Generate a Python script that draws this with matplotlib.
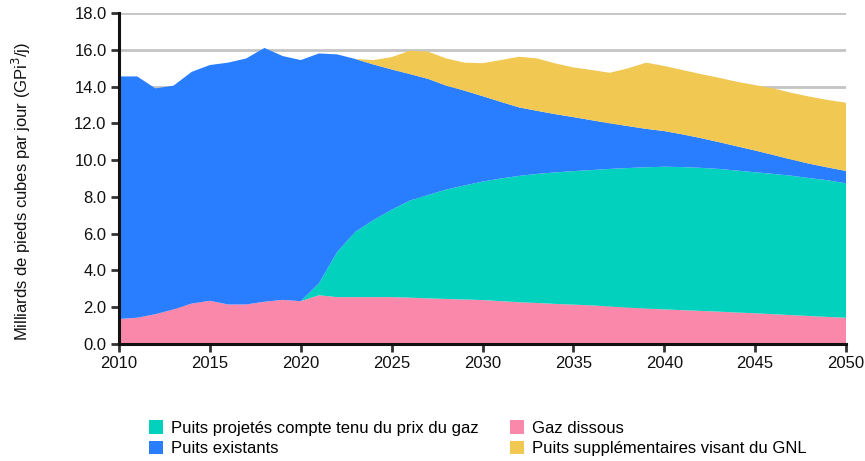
import matplotlib.pyplot as plt
import numpy as np

plt.rcParams['font.family'] = ['Liberation Sans', 'DejaVu Sans']

# annees et series (GPi3/j)
years = np.arange(2010, 2051)

gaz_dissous = [1.36, 1.43, 1.62, 1.88, 2.20, 2.35, 2.15, 2.15, 2.30, 2.40,
               2.33, 2.65, 2.55, 2.55, 2.55, 2.55, 2.52, 2.48, 2.45, 2.42,
               2.39, 2.33, 2.27, 2.23, 2.18, 2.14, 2.10, 2.04, 1.98, 1.93,
               1.88, 1.84, 1.80, 1.76, 1.71, 1.67, 1.62, 1.57, 1.52, 1.47,
               1.43]

puits_projetes = [0, 0, 0, 0, 0, 0, 0, 0, 0, 0,
                  0, 0.65, 2.45, 3.55, 4.19, 4.75, 5.28, 5.62, 5.95, 6.20,
                  6.44, 6.67, 6.87, 7.02, 7.15, 7.26, 7.36, 7.48, 7.59, 7.68,
                  7.76, 7.78, 7.78, 7.76, 7.72, 7.67, 7.63, 7.58, 7.50, 7.43,
                  7.31]

puits_existants = [13.19, 13.12, 12.28, 12.17, 12.60, 12.82, 13.15, 13.38, 13.80, 13.26,
                   13.11, 12.50, 10.75, 9.40, 8.46, 7.63, 6.88, 6.32, 5.65, 5.16,
                   4.65, 4.17, 3.73, 3.43, 3.17, 2.94, 2.71, 2.48, 2.28, 2.09,
                   1.94, 1.78, 1.62, 1.46, 1.32, 1.18, 1.03, 0.88, 0.78, 0.70,
                   0.67]

puits_gnl = [0, 0, 0, 0, 0, 0, 0, 0, 0, 0,
             0, 0, 0, 0, 0.24, 0.67, 1.27, 1.48, 1.48, 1.52,
             1.79, 2.27, 2.75, 2.85, 2.76, 2.70, 2.73, 2.75, 3.14, 3.60,
             3.54, 3.50, 3.48, 3.50, 3.51, 3.56, 3.62, 3.63, 3.65, 3.67,
             3.71]

labels = ['Gaz dissous', 'Puits projetés compte tenu du prix du gaz',
          'Puits existants', 'Puits supplémentaires visant du GNL']
colors = ['#F988AB', '#02D1BE', '#287EFF', '#F0C852']

fig = plt.figure(figsize=(8.65, 4.61), dpi=100)
ax = fig.add_axes([0.1376, 0.2538, 0.8405, 0.718])

polys = ax.stackplot(years, gaz_dissous, puits_projetes, puits_existants, puits_gnl,
                     colors=colors, labels=labels, linewidth=0, zorder=2)

ax.set_xlim(2010, 2050)
ax.set_ylim(0, 18)
ax.set_xticks(range(2010, 2051, 5))
ax.set_yticks(np.arange(0, 18.1, 2))
ax.set_yticklabels(['%.1f' % v for v in np.arange(0, 18.1, 2)])

ax.yaxis.grid(True, color='#c4c4c4', linewidth=2, zorder=1)
ax.set_axisbelow(True)
for s in ['top', 'right']:
    ax.spines[s].set_visible(False)
for s in ['left', 'bottom']:
    ax.spines[s].set_linewidth(2.2)
    ax.spines[s].set_color('#111111')
    ax.spines[s].set_zorder(3)
ax.tick_params(axis='both', length=6, width=2, color='#333333',
               labelsize=12, labelcolor='#111111')
ax.tick_params(axis='y', pad=3)
ax.tick_params(axis='x', pad=3)

ax.set_ylabel('Milliards de pieds cubes par jour (GPi$^3$/j)', fontsize=12,
              color='#111111')
ax.yaxis.set_label_coords(-0.119, 0.46)

# legende: colonne 1 projetes/existants, colonne 2 dissous/GNL
order = [1, 2, 0, 3]
handles = [polys[i] for i in order]
fig.legend(handles, [labels[i] for i in order], ncol=2, frameon=False,
           loc='lower left', bbox_to_anchor=(0.155, -0.022), fontsize=12,
           handlelength=0.85, handleheight=0.85, handletextpad=0.45,
           columnspacing=1.9, labelspacing=0.3)

fig.savefig('out.png', dpi=100)
